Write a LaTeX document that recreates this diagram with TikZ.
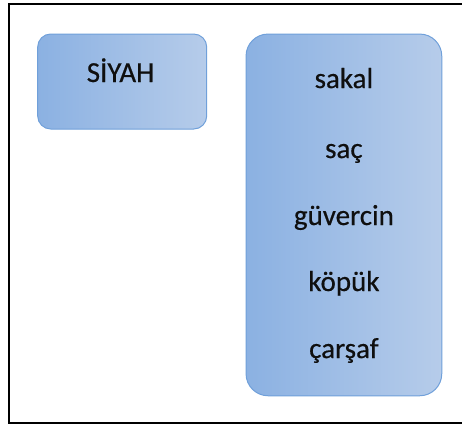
\documentclass[tikz,border=0pt]{standalone}
\usepackage{fontspec}
\setmainfont{Carlito}
\newfontfamily\wordfont{Carlito}[FakeBold=0.5]
\definecolor{boxleft}{RGB}{139,177,226}
\definecolor{boxright}{RGB}{182,204,234}
\definecolor{boxedge}{RGB}{112,160,218}
\definecolor{txt}{RGB}{15,15,15}
\begin{document}
\begin{tikzpicture}[x=1bp,y=-1bp,
  bluebox/.style={draw=boxedge, line width=1bp, left color=boxleft, right color=boxright, inner sep=0pt},
  word/.style={anchor=base, text=txt, inner sep=0pt, font=\wordfont\fontsize{29bp}{35bp}\selectfont}]
\useasboundingbox (0,0) rectangle (462,426);
\fill[white] (0,0) rectangle (462,426);
\draw[line width=2bp] (462,4) -- (8.5,4) -- (8.5,423) -- (462,423);
\node[bluebox, rounded corners=13bp, minimum width=169bp, minimum height=95bp] (b1) at (122.2,81.5) {};
\node[bluebox, rounded corners=22bp, minimum width=195.7bp, minimum height=361.7bp] (b2) at (343.9,214.9) {};
\node[word] (siyah) at (120.5,82) {SİYAH};
\node[word] (w1) at (343.9,88) {sakal};
\node[word] (w2) at (343.9,158) {saç};
\node[word] (w3) at (343.9,225) {güvercin};
\node[word] (w4) at (343.9,291) {köpük};
\node[word] (w5) at (343.9,358) {çarşaf};
\end{tikzpicture}
\end{document}
